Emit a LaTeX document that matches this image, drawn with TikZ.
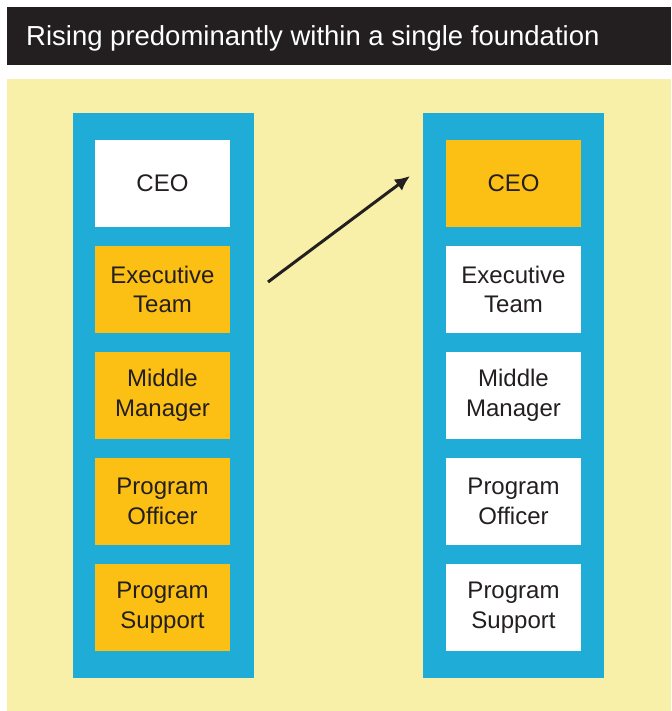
\documentclass[tikz,border=0pt]{standalone}
\usepackage{fontspec}
\setmainfont{Liberation Sans}
\usepackage{tikz}
\usetikzlibrary{arrows.meta}

\definecolor{barblack}{HTML}{231F20}
\definecolor{paleyellow}{HTML}{F8F0A8}
\definecolor{ladderblue}{HTML}{1FADD8}
\definecolor{rungorange}{HTML}{FCBF14}

\begin{document}
\begin{tikzpicture}[x=1pt, y=-1pt, >={Latex[length=15pt, width=14pt]},
        rung/.style={minimum width=135pt, minimum height=87pt, inner sep=0pt, align=center,
            text=barblack, font=\fontsize{24}{29.5}\selectfont},
        held/.style={rung, fill=rungorange},
        open/.style={rung, fill=white}]

        \useasboundingbox (0,0) rectangle (671,711);

        % Title bar and background
        \fill[barblack] (7,7) rectangle (671,65);
        \node at (26,46) [anchor=base west, inner sep=0pt, text=white, font=\fontsize{27.5}{30}\selectfont] (title) {Rising predominantly within a single foundation};
        \fill[paleyellow] (7,79) rectangle (671,711);

        % Ladders
        \fill[ladderblue] (73,113) rectangle (254,678);
        \fill[ladderblue] (423,113) rectangle (604,678);

        % Left ladder
        \node at (162.5,183.5) [open] (L1) {CEO};
        \node at (162.5,289.5) [held] (L2) {Executive\\Team};
        \node at (162.5,395.5) [held] (L3) {Middle\\Manager};
        \node at (162.5,501.5) [held] (L4) {Program\\Officer};
        \node at (162.5,607.5) [held] (L5) {Program\\Support};

        % Right ladder
        \node at (513.5,183.5) [held] (R1) {CEO};
        \node at (513.5,289.5) [open] (R2) {Executive\\Team};
        \node at (513.5,395.5) [open] (R3) {Middle\\Manager};
        \node at (513.5,501.5) [open] (R4) {Program\\Officer};
        \node at (513.5,607.5) [open] (R5) {Program\\Support};

        % Arrow
        \coordinate (rise start) at (268,282);
        \coordinate (rise end) at (410,176);
        \draw[->, line width=3pt, barblack] (rise start) -- (rise end);

    \end{tikzpicture}
\end{document}
